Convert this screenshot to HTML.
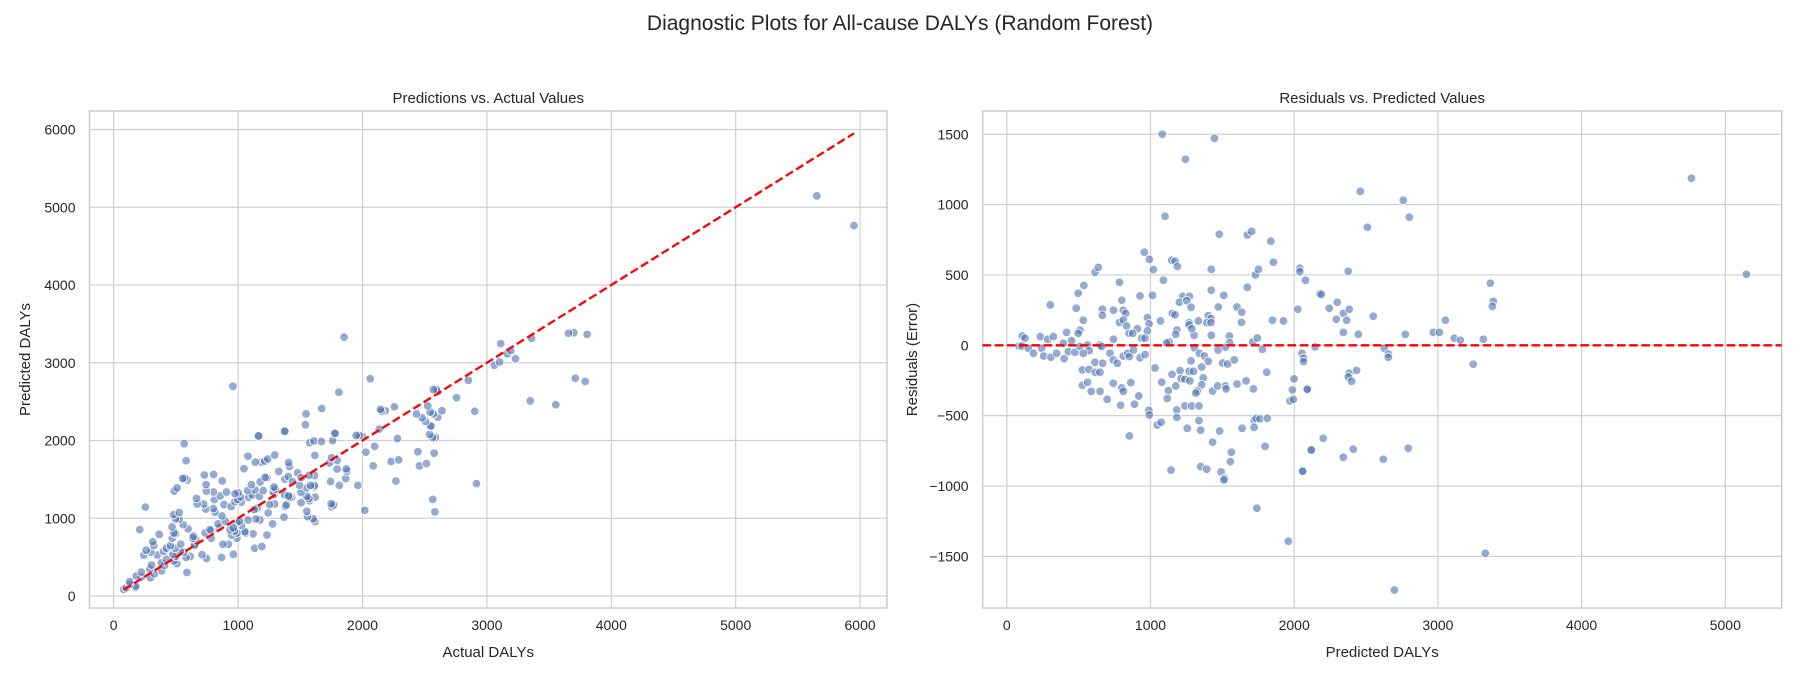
<!DOCTYPE html>
<html><head><meta charset="utf-8">
<style>
html,body{margin:0;padding:0;background:#fff;}
svg{display:block;font-family:"Liberation Sans",Arial,sans-serif;}
</style></head>
<body>
<svg id="fig" width="1800" height="700" viewBox="0 0 1800 700" xmlns="http://www.w3.org/2000/svg">
<text x="900" y="30" text-anchor="middle" font-size="21" fill="#262626">Diagnostic Plots for All-cause DALYs (Random Forest)</text>
<g id="left"></g>
<g id="right"></g>
</svg>
<script>
const predicted = [1082,1445,1243,1101,1479,1674,1704,1837,1855,957,992,1020,1148,1171,1187,1090,1423,1730,1751,1674,614,637,536,497,302,483,532,509,497,784,800,742,665,665,811,827,784,811,834,927,1014,978,990,978,909,939,962,742,851,876,1225,1271,1201,1252,1282,1152,1171,1069,1269,1269,1184,1175,1303,1287,1333,1402,1421,1391,1421,1423,1510,1472,1602,1635,1633,1423,1549,1551,1712,1744,1849,1925,1129,1112,108,127,85,106,150,185,233,242,285,324,257,307,347,399,393,416,451,428,474,509,562,574,532,648,660,718,741,769,614,667,526,572,616,648,526,562,588,649,698,741,800,811,863,792,888,918,853,988,992,811,842,853,881,927,962,1031,1078,1124,1117,1176,1150,1206,1212,1240,1274,1269,1299,1282,1306,1340,1375,1402,1356,1367,1356,1326,1315,1240,1287,1337,1183,1183,1048,1074,1256,1337,1349,1432,1481,1432,1467,1521,1526,1502,1537,1583,1470,1521,1602,1665,1716,1637,1721,1735,1762,1813,1721,1797,1563,1556,1349,1391,1491,1515,1511,1143,1740,1809,1779,1971,1994,1999,1987,2092,2058,2118,2054,2065,2065,2146,2025,2039,2039,2078,2178,2460,2759,2801,2509,2376,2188,2300,2244,2342,2383,2293,2365,2550,2342,2446,2773,2968,3010,3052,3114,3156,3316,3365,3386,3379,3246,2627,2655,2655,2383,2376,2400,2434,2091,2202,2119,2059,2342,2411,2620,2794,3330,2697,4764,5147,1959];
const residuals = [1500,1471,1322,917,789,784,810,739,590,661,611,538,604,597,561,462,540,500,540,412,519,554,426,370,287,263,178,107,85,448,320,249,256,213,249,227,163,180,137,351,355,197,152,102,118,50,50,43,85,85,348,348,306,317,270,227,216,173,161,145,109,78,71,118,173,211,190,161,161,391,355,272,272,235,163,71,66,19,24,52,178,173,24,17,66,50,-5,-5,-21,-57,62,-21,43,62,-76,-85,-57,-95,14,92,33,-45,-50,-9,2,-38,-57,2,-9,-57,-104,-128,-121,-128,-175,-171,-192,-192,-284,-263,-327,-327,-384,-270,-303,-327,-265,-426,-419,-360,-644,-462,-495,-76,-57,-80,-33,-88,-66,-161,-263,-322,-377,-289,-206,-180,-237,-242,-253,-185,-185,-111,-17,-57,-76,-114,-154,-232,-280,-325,-340,-431,-431,-431,-460,-512,-566,-547,-590,-535,-604,-689,-609,-325,-289,-289,-310,-126,-133,-104,-33,-14,-275,-253,-310,-590,-535,-520,-523,-519,-583,-718,-760,-827,-862,-881,-900,-945,-957,-888,-1158,-192,-28,-396,-384,-239,-317,-310,-893,-744,-57,-92,-116,-12,256,547,524,462,365,1094,1031,910,839,526,362,306,263,227,256,185,178,206,92,78,78,92,92,178,50,36,43,441,313,277,-135,-21,-62,-85,-199,-225,-256,-178,-313,-661,-744,-895,-796,-739,-810,-732,-1478,-1739,1187,505,-1393];
const leftXTicks = [0,1000,2000,3000,4000,5000,6000];
const leftYTicks = [0,1000,2000,3000,4000,5000,6000];
const rightXTicks = [0,1000,2000,3000,4000,5000];
const rightYTicks = [-1500,-1000,-500,0,500,1000,1500];

const NS="http://www.w3.org/2000/svg";
function mk(tag,attrs,parent){const e=document.createElementNS(NS,tag);for(const k in attrs)e.setAttribute(k,attrs[k]);parent.appendChild(e);return e;}
function fmt(v){return v<0?"\u2212"+Math.abs(v):String(v);}

function panel(g,box,xs,ys,xt,yt,title,xl,yl,xsTitle){
  const [L,T,R,B]=box;
  mk('rect',{x:L,y:T,width:R-L,height:B-T,fill:'#fff'},g);
  xt.forEach(v=>{const x=xs(v);
    const l=mk('line',{x1:x,x2:x,y1:T,y2:B,stroke:'#d0d0d0','stroke-width':1.2},g);
    
    
    const t=mk('text',{x:x,y:B+22,'text-anchor':'middle','font-size':14,fill:'#262626'},g);t.textContent=fmt(v);
    
    
  });
  yt.forEach(v=>{const y=ys(v);
    const l=mk('line',{x1:L,x2:R,y1:y,y2:y,stroke:'#d0d0d0','stroke-width':1.2},g);
    
    
    const t=mk('text',{x:L-14,y:y+5,'text-anchor':'end','font-size':14,fill:'#262626'},g);t.textContent=fmt(v);
    
    
  });
  const fr=mk('rect',{x:L,y:T,width:R-L,height:B-T,fill:'none',stroke:'#cccccc','stroke-width':1.5},g);
  
  
  const tt=mk('text',{x:(L+R)/2,y:T-8,'text-anchor':'middle','font-size':15,fill:'#262626'},g);tt.textContent=title;
  
  
  const xlab=mk('text',{x:(L+R)/2,y:B+49,'text-anchor':'middle','font-size':15,fill:'#262626'},g);xlab.textContent=xl;
  
  
  const yx=xsTitle, yy=(T+B)/2;
  const ylab=mk('text',{x:yx,y:yy,'text-anchor':'middle','font-size':15,fill:'#262626',transform:`rotate(-90 ${yx} ${yy})`},g);ylab.textContent=yl;
  
  
}

// Left panel
const LB=[89.5,111,887,608];
const lx=v=>113.7+v*0.12440, ly=v=>596-v*0.07775;
const gl=document.getElementById('left');
panel(gl,LB,lx,ly,leftXTicks,leftYTicks,'Predictions vs. Actual Values','Actual DALYs','Predicted DALYs',30);
const actual=predicted.map((p,i)=>p+residuals[i]);
const pts1=mk('g',{},gl);


actual.forEach((a,i)=>{
  const c=mk('circle',{cx:lx(a),cy:ly(predicted[i]),r:4.3,fill:'#4c72b0','fill-opacity':0.6,stroke:'#fff','stroke-width':0.8},pts1);
  
  
});
const amin=Math.min(...actual), amax=Math.max(...actual);
const ref=mk('line',{x1:lx(amin),y1:ly(amin),x2:lx(amax),y2:ly(amax),stroke:'#ff0000','stroke-width':2.3,'stroke-dasharray':'8.5 3.7'},gl);



// Right panel
const RB=[982.6,111,1781.7,608];
const rx=v=>1006.8+v*0.14370, ry=v=>345.3-v*0.14070;
const gr=document.getElementById('right');
panel(gr,RB,rx,ry,rightXTicks,rightYTicks,'Residuals vs. Predicted Values','Predicted DALYs','Residuals (Error)',917);
const pts2=mk('g',{},gr);


predicted.forEach((p,i)=>{
  const c=mk('circle',{cx:rx(p),cy:ry(residuals[i]),r:4.3,fill:'#4c72b0','fill-opacity':0.6,stroke:'#fff','stroke-width':0.8},pts2);
  
  
});
const zl=mk('line',{x1:RB[0],y1:ry(0),x2:RB[2],y2:ry(0),stroke:'#ff0000','stroke-width':2.3,'stroke-dasharray':'8.5 3.7'},gr);


</script>
</body></html>
